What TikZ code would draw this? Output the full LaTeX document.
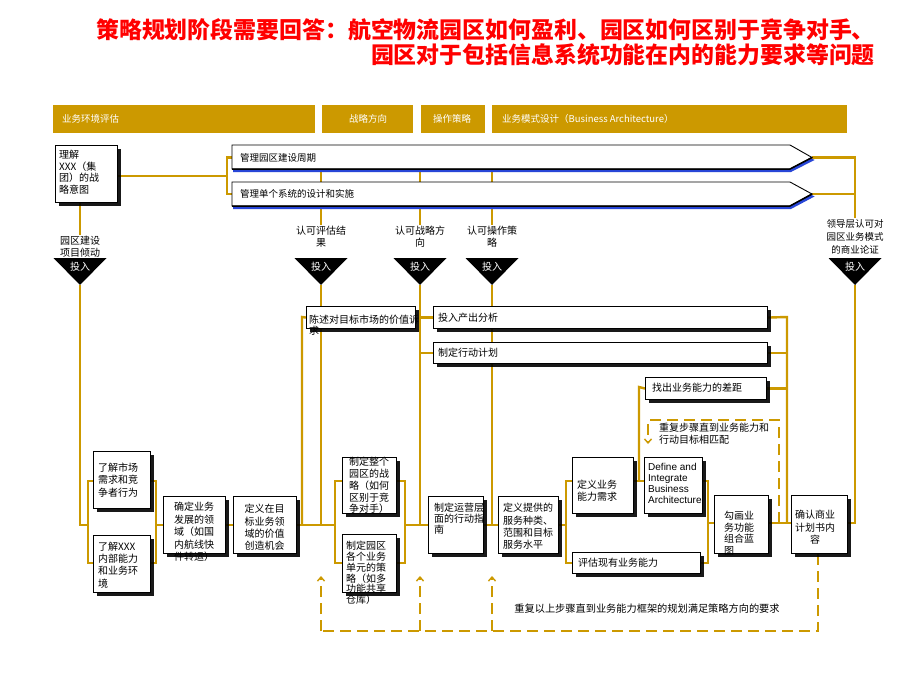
\documentclass[tikz,border=0pt]{standalone}
\usepackage{fontspec}
\newfontfamily\cjk{Noto Sans CJK SC}
\newfontfamily\arialf{Liberation Sans}
\usetikzlibrary{shadows,arrows.meta,calc}
\pgfdeclarelayer{back}
\pgfdeclarelayer{bg}
\pgfsetlayers{back,bg,main}
\definecolor{gold}{RGB}{204,153,0}
\definecolor{shblue}{RGB}{40,70,215}
\tikzset{
 gl/.style={draw=gold, line width=2.4pt},
 gd/.style={draw=gold, line width=2.6pt, dash pattern=on 11pt off 6pt},
 dtip/.style={-{Straight Barb[length=4pt,width=7pt,line width=1.4pt]}},
 boxn/.style={draw=black, line width=1.1pt, fill=white, inner sep=0pt,
   drop shadow={shadow xshift=3pt, shadow yshift=-3pt, fill=black, opacity=0.9}},
 tx/.style={inner sep=0pt, font=\cjk\fontsize{10}{12.3}\selectfont, align=left},
 hdr/.style={fill=gold, inner sep=0pt, anchor=north west, minimum height=28pt},
 hdrt/.style={text=white, font=\cjk\fontsize{9.5}{11}\selectfont, inner sep=0pt},
 tritxt/.style={text=white, font=\cjk\fontsize{10}{12}\selectfont, inner sep=0pt},
 lbl/.style={font=\cjk\fontsize{10}{12}\selectfont, align=center, inner sep=1pt},
 bartxt/.style={font=\cjk\fontsize{9.5}{11}\selectfont, inner sep=0pt},
 ttl/.style={anchor=east, text=red, inner sep=0pt, font=\cjk\bfseries\fontsize{22.9}{26}\selectfont},
}
\newcommand\bbox[5]{\node[boxn,anchor=north west,minimum width={(#4-#2)*1pt},minimum height={(#5-#3)*1pt}] (#1) at (#2,#3) {};}
\newcommand\trinode[2]{%
 \fill[black] (#2-26.5,258) -- (#2+26.5,258) -- (#2,285) -- cycle;
 \coordinate (#1tip) at (#2,285);
 \node[tritxt] (#1) at (#2,267) {投入};}
\newcommand\arrowbar[5]{%
 \fill[shblue] (233,#2+2) -- (791,#2+2) -- (814.5,#3+2.5) -- (791,#4+3) -- (233,#4+3) -- cycle;
 \draw[fill=white,line width=0.9pt] (232,#2) -- (790,#2) -- (812,#3) -- (790,#4) -- (232,#4) -- cycle;
 \draw[line width=1.5pt] (232,#4) -- (790,#4) -- (812,#3);
 \coordinate (#1w) at (232,#3); \coordinate (#1e) at (812,#3);
 \coordinate (#1nw) at (232,#2); \coordinate (#1sw) at (232,#4);
 \node[bartxt,anchor=west] (#1) at (240,#3) {#5};}
\begin{document}
\begin{tikzpicture}[x=1pt,y=-1pt]
\begin{pgfonlayer}{back}
\fill[white] (0,0) rectangle (920,690);
\end{pgfonlayer}
\useasboundingbox (0,0) rectangle (920,690);

% title
\node[ttl] (title1) at (875,30) {策略规划阶段需要回答：航空物流园区如何盈利、园区如何区别于竞争对手、};
\node[ttl] (title2) at (875,55) {园区对于包括信息系统功能在内的能力要求等问题};

% header bars
\node[hdr, minimum width=262pt] (h1) at (53,105) {};
\node[hdr, minimum width=91pt] (h2) at (322,105) {};
\node[hdr, minimum width=64pt] (h3) at (421,105) {};
\node[hdr, minimum width=355pt] (h4) at (492,105) {};
\node[hdrt, anchor=west] (h1t) at (62,119) {业务环境评估};
\node[hdrt] (h2t) at (368,119) {战略方向};
\node[hdrt] (h3t) at (452,119) {操作策略};
\node[hdrt, anchor=west] (h4t) at (502,119) {业务模式设计（Business Architecture）};

% arrow bars
\arrowbar{barA}{145}{157.5}{169}{管理园区建设周期}
\arrowbar{barB}{182}{194}{206}{管理单个系统的设计和实施}

% boxes
\bbox{A}{55}{145}{117}{202}
\bbox{B1}{93}{451}{150}{508}
\bbox{B2}{93}{535}{150}{592}
\bbox{B3}{163}{496}{225}{553}
\bbox{B4}{233}{496}{296}{553}
\bbox{Cb}{306}{306}{415}{328}
\bbox{D1}{342}{457}{396}{513}
\bbox{D2}{342}{534}{396}{592}
\bbox{E}{428}{496}{483}{553}
\bbox{F1}{433}{306}{767}{328}
\bbox{F2}{433}{342}{767}{363}
\bbox{G}{498}{496}{558}{553}
\bbox{H1}{572}{457}{633}{513}
\bbox{H2}{572}{552}{700}{573}
\bbox{I}{644}{457}{702}{513}
\bbox{J}{645}{377}{766}{399}
\bbox{K}{714}{495}{768}{553}
\bbox{Lbox}{791}{495}{847}{553}

% box texts
\node[tx, font=\cjk\fontsize{10}{11.5}\selectfont, anchor=west] (At) at (59,172) {理解\\XXX（集\\团）的战\\略意图};
\node[tx, anchor=west] (B1t) at (98,480) {了解市场\\需求和竞\\争者行为};
\node[tx, anchor=west] (B2t) at (98,565) {了解XXX\\内部能力\\和业务环\\境};
\node[tx, font=\cjk\fontsize{10}{12.4}\selectfont] (B3t) at (194,532) {确定业务\\发展的领\\域（如国\\内航线快\\件转运）};
\node[tx] (B4t) at (264.5,527.5) {定义在目\\标业务领\\域的价值\\创造机会};
\node[tx, font=\cjk\fontsize{10}{11.5}\selectfont, anchor=north west] (Ct) at (309,314.5) {陈述对目标市场的价值诉\\求};
\node[tx, font=\cjk\fontsize{10}{11.8}\selectfont] (D1t) at (369,485.5) {制定整个\\园区的战\\略（如何\\区别于竞\\争对手）};
\node[tx, font=\cjk\fontsize{10}{10.8}\selectfont, anchor=west] (D2t) at (346,573) {制定园区\\各个业务\\单元的策\\略（如多\\功能共享\\仓库）};
\node[tx, font=\cjk\fontsize{10}{11}\selectfont, anchor=north west] (Et) at (434,502.5) {制定运营层\\面的行动指\\南};
\node[tx, anchor=west] (F1t) at (438,318) {投入产出分析};
\node[tx, anchor=west] (F2t) at (438,353) {制定行动计划};
\node[tx, anchor=west] (Gt) at (503,526.5) {定义提供的\\服务种类、\\范围和目标\\服务水平};
\node[tx, font=\cjk\fontsize{10}{11.5}\selectfont, anchor=west] (H1t) at (577,490.5) {定义业务\\能力需求};
\node[tx, anchor=west] (H2t) at (578,563) {评估现有业务能力};
\node[tx, anchor=west] (Jt) at (652,388) {找出业务能力的差距};
\node[tx, font=\arialf\fontsize{10}{11}\selectfont, anchor=west] (It) at (648,483.5) {Define and\\Integrate\\Business\\Architecture};
\node[tx, font=\cjk\fontsize{10}{11.5}\selectfont, anchor=north west] (Kt) at (724,511) {勾画业\\务功能\\组合蓝\\图};
\node[tx, font=\cjk\fontsize{10}{12.5}\selectfont, align=center] (Lt) at (815,527.5) {确认商业\\计划书内\\容};

% labels and triangles
\node[lbl] (lab0) at (80,247) {园区建设\\项目倾动};
\node[lbl] (lab1) at (321,237) {认可评估结\\果};
\node[lbl] (lab2) at (420,237) {认可战略方\\向};
\node[lbl] (lab3) at (492,237) {认可操作策\\略};
\node[lbl, font=\cjk\fontsize{9.5}{13}\selectfont] (lab4) at (855,237) {领导层认可对\\园区业务模式\\的商业论证};
\trinode{T0}{80}
\trinode{T1}{321}
\trinode{T2}{420}
\trinode{T3}{492}
\trinode{T4}{855}

% dashed loop texts
\node[tx, font=\cjk\fontsize{10}{12}\selectfont, anchor=west] (rep1) at (659,434) {重复步骤直到业务能力和\\行动目标相匹配};
\node[tx, font=\cjk\fontsize{10.2}{12}\selectfont] (rep2) at (647,609) {重复以上步骤直到业务能力框架的规划满足策略方向的要求};

% coordinates
\coordinate (mainy) at (0,525);
\coordinate (mainy2) at (0,523);
\coordinate (sp) at (227,176);
\coordinate (L1) at (88,481);  \coordinate (L1b) at (88,563);
\coordinate (R1) at (156,481); \coordinate (R1b) at (156,563);
\coordinate (L2) at (335,481); \coordinate (L2b) at (335,563);
\coordinate (R2) at (405,481); \coordinate (R2b) at (405,563);
\coordinate (L3) at (566,481); \coordinate (L3b) at (566,563);
\coordinate (R3) at (708,481); \coordinate (R3b) at (708,563);
\coordinate (cx) at (302,317);
\coordinate (jx) at (639,387);
\coordinate (vx) at (787,317);
\coordinate (rx) at (855,157.5);
\coordinate (dq) at (779,420);
\coordinate (dqa) at (648,444);
\coordinate (db) at (818,631);
\coordinate (ay) at (0,576);

\begin{pgfonlayer}{bg}
% top part
\draw[gl] (A.east |- sp) -- (sp);
\draw[gl] (barAw) -| (sp |- barBw) -- (barBw);
\draw[gl] (barAe) -- (rx) -- (lab4.north);
\draw[gl] (barBe) -- (barBe -| rx);
\foreach \t in {lab1,lab2,lab3}{
  \draw[gl] (\t |- barAsw) -- (\t |- barBnw);
  \draw[gl] (\t |- barBsw) -- (\t.north);
}
\draw[gl] (T0tip |- A.south) -- (T0tip |- lab0.north);
% left chain
\draw[gl] (T0tip) -- (T0tip |- mainy) -- (L1 |- mainy);
\draw[gl] (B1.west |- L1) -- (L1) -- (L1b) -- (B2.west |- L1b);
\draw[gl] (B1.east |- R1) -- (R1) -- (R1b) -- (B2.east |- R1b);
\draw[gl] (R1 |- mainy) -- (B3.west |- mainy);
\draw[gl] (B3.east |- mainy) -- (B4.west |- mainy);
\draw[gl] (B4.east |- mainy) -- (L2 |- mainy);
\draw[gl] (T1tip) -- (T1tip |- mainy);
\draw[gl] (cx |- mainy) -- (cx) -- (Cb.west);
\draw[gl] (D1.west |- L2) -- (L2) -- (L2b) -- (D2.west |- L2b);
\draw[gl] (D1.east |- R2) -- (R2) -- (R2b) -- (D2.east |- R2b);
\draw[gl] (R2 |- mainy) -- (E.west |- mainy);
\draw[gl] (T2tip) -- (T2tip |- mainy);
\draw[gl] (T2tip |- F1.west) -- (F1.west);
\draw[gl] (T2tip |- F2.west) -- (F2.west);
\draw[gl] (E.east |- mainy) -- (G.west |- mainy);
\draw[gl] (T3tip) -- (T3tip |- mainy);
\draw[gl] (G.east |- mainy) -- (L3 |- mainy);
\draw[gl] (H1.west |- L3) -- (L3) -- (L3b) -- (H2.west |- L3b);
\draw[gl] (H1.east |- L3) -- (I.west |- L3);
\draw[gl] (jx |- L3) -- (jx) -- (J.west);
\draw[gl] (I.east |- R3) -- (R3) -- (R3b) -- (H2.east |- R3b);
\draw[gl] (R3 |- mainy2) -- (K.west |- mainy2);
\draw[gl] (K.east |- mainy2) -- (Lbox.west |- mainy2);
\draw[gl] (F1.east) -- (vx) -- (vx |- mainy2);
\draw[gl] (F2.east) -- (F2.east -| vx);
\draw[gl] (J.east) -- (J.east -| vx);
\draw[gl] (T4tip) -- (T4tip |- mainy2) -- (Lbox.east |- mainy2);
% dashed loops
\draw[gd, dtip] (dq |- mainy2) -- (dq) -| (dqa);
\draw[gd] (Lbox.south -| db) -- (db) -- (db -| T1tip);
\foreach \t in {T1tip,T2tip,T3tip}{
  \draw[gd, dtip] (\t |- db) -- (\t |- ay);
}
\end{pgfonlayer}
\end{tikzpicture}
\end{document}
